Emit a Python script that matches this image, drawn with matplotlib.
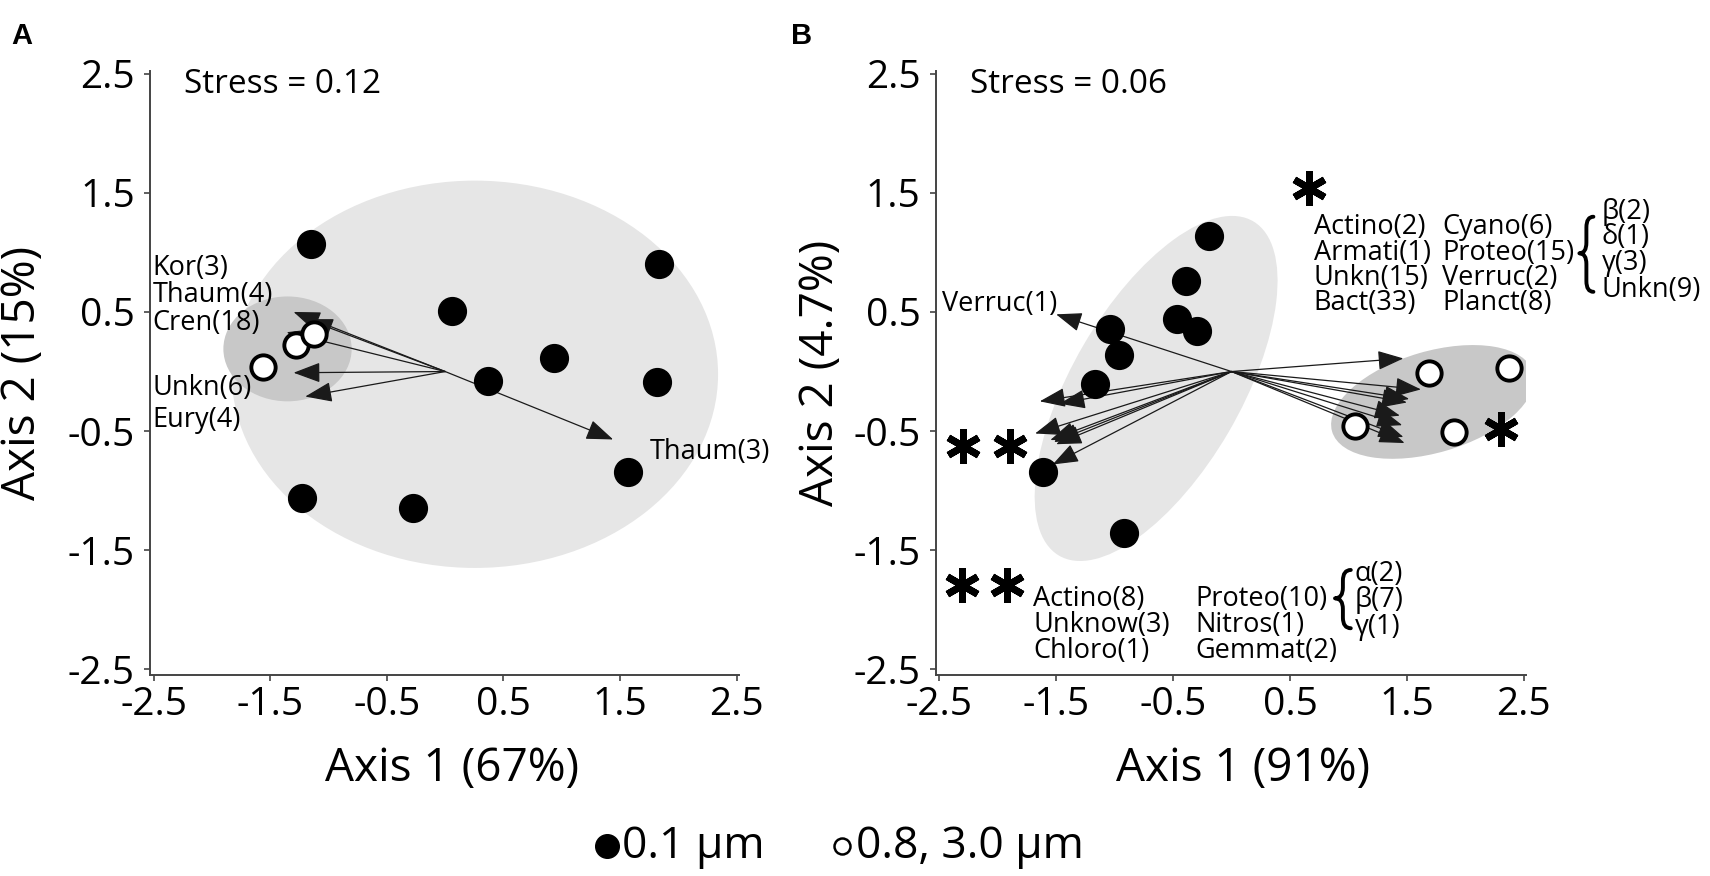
import matplotlib
matplotlib.use('Agg')
import matplotlib.pyplot as plt
from matplotlib.patches import Ellipse, PathPatch
from matplotlib.path import Path
from matplotlib.lines import Line2D

plt.rcParams['font.family'] = ['Open Sans', 'DejaVu Sans']

# ---------------- data ----------------
tick_vals = [-2.5, -1.5, -0.5, 0.5, 1.5, 2.5]
tick_labels = ['-2.5', '-1.5', '-0.5', '0.5', '1.5', '2.5']

# Panel A
a_small_x = [-1.148, 0.058, 0.929, 0.369, 1.835, 1.815, 1.571, -1.227, -0.277]
a_small_y = [1.067, 0.512, 0.116, -0.077, 0.905, -0.085, -0.840, -1.063, -1.148]
a_large_x = [-1.562, -1.278, -1.125]
a_large_y = [0.035, 0.220, 0.312]
a_vec_x = [-1.30, -1.19, -1.36, -1.30, -1.20, 1.44]
a_vec_y = [0.50, 0.44, 0.33, -0.01, -0.21, -0.57]
a_labels = ['Kor(3)', 'Thaum(4)', 'Cren(18)', 'Unkn(6)', 'Eury(4)', 'Thaum(3)']
a_stress = 'Stress = 0.12'
a_xlabel = 'Axis 1 (67%)'
a_ylabel = 'Axis 2 (15%)'

# Panel B
b_small_x = [-0.189, -0.390, -0.465, -0.292, -1.038, -0.960, -1.164, -1.616, -0.921]
b_small_y = [1.137, 0.759, 0.444, 0.336, 0.359, 0.139, -0.107, -0.843, -1.352]
b_large_x = [1.685, 2.372, 1.056, 1.900]
b_large_y = [-0.011, 0.028, -0.454, -0.504]
b_vec_x = [-1.50, -1.64, -1.47, -1.68, -1.55, -1.52, -1.50, -1.53,
           1.47, 1.62, 1.52, 1.50, 1.44, 1.46, 1.47, 1.48]
b_vec_y = [0.48, -0.25, -0.27, -0.52, -0.575, -0.59, -0.61, -0.78,
           0.11, -0.15, -0.23, -0.26, -0.37, -0.45, -0.55, -0.60]
b_star_x = [0.663, 2.302, -2.296, -1.895, -2.307, -1.922]
b_star_y = [1.538, -0.485, -0.625, -0.625, -1.794, -1.794]
b_vec_label = 'Verruc(1)'
b_top_col1 = ['Actino(2)', 'Armati(1)', 'Unkn(15)', 'Bact(33)']
b_top_col2 = ['Cyano(6)', 'Proteo(15)', 'Verruc(2)', 'Planct(8)']
b_top_sub = ['β(2)', 'δ(1)', 'γ(3)', 'Unkn(9)']
b_bot_col1 = ['Actino(8)', 'Unknow(3)', 'Chloro(1)']
b_bot_col2 = ['Proteo(10)', 'Nitros(1)', 'Gemmat(2)']
b_bot_sub = ['α(2)', 'β(7)', 'γ(1)']
b_stress = 'Stress = 0.06'
b_xlabel = 'Axis 1 (91%)'
b_ylabel = 'Axis 2 (4.7%)'

legend_labels = ['0.1 μm', '0.8, 3.0 μm']

# ---------------- styling ----------------
LIGHT = '#e6e6e6'
DARK = '#c8c8c8'
SPINE = '#444444'
ARROW = '#1a1a1a'
LABEL_FS = 19.5
TICK_FS = 28
AXLAB_FS = 33

fig = plt.figure(figsize=(17.1, 8.76), dpi=100)
axA = fig.add_axes([0.0878, 0.2295, 0.3444, 0.6892])
axB = fig.add_axes([0.5472, 0.2295, 0.3453, 0.6892])


def style(ax):
    ax.set_xlim(-2.53, 2.52)
    ax.set_ylim(-2.546, 2.52)
    ax.set_xticks(tick_vals)
    ax.set_yticks(tick_vals)
    ax.set_xticklabels(tick_labels)
    ax.set_yticklabels(tick_labels)
    for s in ['top', 'right']:
        ax.spines[s].set_visible(False)
    for s in ['left', 'bottom']:
        ax.spines[s].set_color(SPINE)
        ax.spines[s].set_linewidth(1.4)
    ax.tick_params(direction='out', length=4, width=1.2, color=SPINE,
                   labelsize=TICK_FS)
    ax.tick_params(axis='x', pad=4)
    ax.tick_params(axis='y', pad=7)


def arrows(ax, xs, ys, ms=21):
    for x, y in zip(xs, ys):
        ax.annotate('', xy=(x, y), xytext=(0, 0),
                    arrowprops=dict(arrowstyle='-|>,head_length=0.8,head_width=0.3',
                                    color=ARROW, lw=0.9, shrinkA=0, shrinkB=0,
                                    mutation_scale=ms),
                    zorder=3)


def brace(ax, xl, xr, yt, yc, yb, r=0.09):
    xm = (xl + xr) / 2
    verts = [(xr, yt), (xm, yt), (xm, yt - r), (xm, yc + r), (xm, yc), (xl, yc),
             (xm, yc), (xm, yc - r), (xm, yb + r), (xm, yb), (xr, yb)]
    codes = [Path.MOVETO, Path.CURVE3, Path.CURVE3, Path.LINETO, Path.CURVE3, Path.CURVE3,
             Path.CURVE3, Path.CURVE3, Path.LINETO, Path.CURVE3, Path.CURVE3]
    ax.add_patch(PathPatch(Path(verts, codes), fill=False, lw=2.8, color='black',
                           clip_on=False, capstyle='round', joinstyle='round'))


def points(ax, sx, sy, lx, ly):
    ax.plot(sx, sy, 'o', color='black', ms=20, ls='', zorder=4)
    ax.plot(lx, ly, 'o', mfc='white', mec='black', mew=2.8, ms=17.5, ls='', zorder=5)


# ---------------- Panel A ----------------
style(axA)
axA.add_patch(Ellipse((0.255, -0.023), 4.17, 3.25, angle=0, color=LIGHT, zorder=1, lw=0))
axA.add_patch(Ellipse((-1.352, 0.19), 1.10, 0.88, angle=0, color=DARK, zorder=1.5, lw=0))
arrows(axA, a_vec_x, a_vec_y)
points(axA, a_small_x, a_small_y, a_large_x, a_large_y)
a_lab_pos = [(-2.51, 0.865), (-2.51, 0.645), (-2.51, 0.405), (-2.51, -0.141),
             (-2.51, -0.410), (1.757, -0.675)]
for t, (x, y) in zip(a_labels, a_lab_pos):
    axA.text(x, y, t, fontsize=LABEL_FS, va='center', ha='left', zorder=6)
axA.text(-2.243, 2.41, a_stress, fontsize=24, va='center', ha='left')
axA.set_xlabel(a_xlabel, fontsize=AXLAB_FS)
axA.set_ylabel(a_ylabel, fontsize=AXLAB_FS)
axA.xaxis.set_label_coords(0.513, -0.118)
axA.yaxis.set_label_coords(-0.1765, 0.5)

# ---------------- Panel B ----------------
style(axB)
axB.add_patch(Ellipse((-0.645, -0.142), 3.26, 1.44, angle=59.2, color=LIGHT, zorder=1, lw=0))
axB.add_patch(Ellipse((1.72, -0.255), 1.79, 0.85, angle=16, color=DARK, zorder=1.5, lw=0))
arrows(axB, b_vec_x, b_vec_y, ms=20)
points(axB, b_small_x, b_small_y, b_large_x, b_large_y)
axB.plot(b_star_x, b_star_y, marker=(6, 2, 0), ms=25, mew=5, color='black', ls='',
         zorder=6, clip_on=False)
axB.text(-2.473, 0.566, b_vec_label, fontsize=LABEL_FS, va='center', ha='left', zorder=6)
top_rows = [1.217, 0.998, 0.786, 0.575]
for t, y in zip(b_top_col1, top_rows):
    axB.text(0.702, y, t, fontsize=LABEL_FS, va='center', ha='left')
for t, y in zip(b_top_col2, top_rows):
    axB.text(1.802, y, t, fontsize=LABEL_FS, va='center', ha='left')
for t, y in zip(b_top_sub, [1.341, 1.131, 0.908, 0.684]):
    axB.text(3.167, y, t, fontsize=LABEL_FS, va='center', ha='left')
brace(axB, 2.975, 3.095, 1.299, 0.992, 0.669)
bot_rows = [-1.905, -2.125, -2.345]
for t, y in zip(b_bot_col1, bot_rows):
    axB.text(-1.695, y, t, fontsize=LABEL_FS, va='center', ha='left')
for t, y in zip(b_bot_col2, bot_rows):
    axB.text(-0.313, y, t, fontsize=LABEL_FS, va='center', ha='left')
for t, y in zip(b_bot_sub, [-1.700, -1.917, -2.141]):
    axB.text(1.056, y, t, fontsize=LABEL_FS, va='center', ha='left')
brace(axB, 0.885, 1.02, -1.665, -1.903, -2.154)
axB.text(-2.237, 2.41, b_stress, fontsize=24, va='center', ha='left')
axB.set_xlabel(b_xlabel, fontsize=AXLAB_FS)
axB.set_ylabel(b_ylabel, fontsize=AXLAB_FS)
axB.xaxis.set_label_coords(0.52, -0.118)
axB.yaxis.set_label_coords(-0.156, 0.5)

# panel letters
fig.text(0.0064, 0.959, 'A', fontsize=21, fontweight='bold', family='Liberation Sans',
         va='center', ha='left')
fig.text(0.4626, 0.959, 'B', fontsize=21, fontweight='bold', family='Liberation Sans',
         va='center', ha='left')

# legend (placed manually)
leg_y = 0.0342
fig.add_artist(Line2D([607 / 1710], [leg_y], transform=fig.transFigure, marker='o', ls='',
                      color='black', ms=17))
fig.add_artist(Line2D([842 / 1710], [leg_y], transform=fig.transFigure, marker='o', ls='',
                      mfc='white', mec='black', mew=1.8, ms=11.5))
fig.text(622 / 1710, 0.021, legend_labels[0], fontsize=32, va='baseline', ha='left')
fig.text(856 / 1710, 0.021, legend_labels[1], fontsize=32, va='baseline', ha='left')

fig.savefig('out.png', dpi=100)
